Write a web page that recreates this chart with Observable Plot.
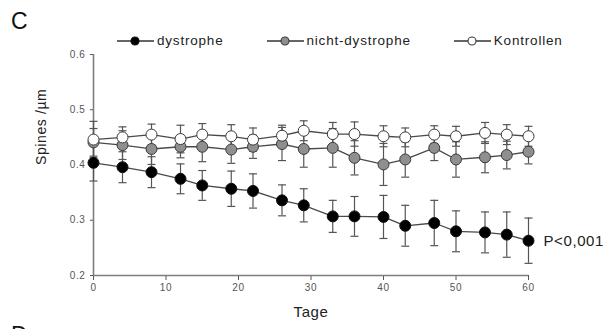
<!DOCTYPE html>
<html>
<head>
<meta charset="utf-8">
<script src="https://cdn.jsdelivr.net/npm/d3@7"></script>
<script src="https://cdn.jsdelivr.net/npm/@observablehq/plot@0.6"></script>
<style>
  html, body { margin: 0; padding: 0; background: #fff; }
  #wrap { position: relative; width: 605px; height: 329px; overflow: hidden; font-family: "Liberation Sans", Arial, sans-serif; }
  #wrap svg text { letter-spacing: 0.6px; }
  .panel { position: absolute; left: 11px; font-size: 23px; color: #111; line-height: 1; }
  #legend { position: absolute; top: 33px; left: 117px; display: flex; align-items: center; font-size: 13.5px; letter-spacing: 0.8px; color: #222; }
  #legend .item { display: flex; align-items: center; }
  #legend .item + .item { margin-left: 43px; }
  #legend svg { display: block; margin-right: 3px; }
</style>
</head>
<body>
<div id="wrap">
  <div class="panel" style="top:10px">C</div>
  <div class="panel" style="top:324px">D</div>
  <div id="legend"></div>
</div>
<script>
// ---- data ----
const days = [0, 4, 8, 12, 15, 19, 22, 26, 29, 33, 36, 40, 43, 47, 50, 54, 57, 60];
const dystrophe = [0.404, 0.396, 0.387, 0.375, 0.363, 0.357, 0.353, 0.336, 0.327, 0.307, 0.307, 0.306, 0.290, 0.295, 0.280, 0.278, 0.274, 0.263];
const dystropheErr = [0.033, 0.028, 0.028, 0.027, 0.027, 0.032, 0.031, 0.028, 0.030, 0.029, 0.036, 0.039, 0.037, 0.041, 0.037, 0.037, 0.041, 0.041];
const nichtDystrophe = [0.441, 0.436, 0.429, 0.433, 0.433, 0.428, 0.433, 0.438, 0.429, 0.431, 0.413, 0.401, 0.410, 0.431, 0.410, 0.414, 0.418, 0.424];
const nichtDystropheErr = [0.025, 0.026, 0.028, 0.020, 0.027, 0.025, 0.021, 0.030, 0.033, 0.035, 0.031, 0.038, 0.032, 0.023, 0.032, 0.028, 0.025, 0.022];
const kontrollen = [0.446, 0.450, 0.455, 0.447, 0.455, 0.452, 0.446, 0.453, 0.462, 0.456, 0.456, 0.452, 0.450, 0.455, 0.452, 0.458, 0.455, 0.452];
const kontrollenErr = [0.033, 0.019, 0.019, 0.025, 0.020, 0.021, 0.021, 0.019, 0.018, 0.021, 0.022, 0.019, 0.017, 0.016, 0.018, 0.019, 0.018, 0.018];
const seriesNames = ["dystrophe", "nicht-dystrophe", "Kontrollen"];
const xTicks = [0, 10, 20, 30, 40, 50, 60];
const yTicks = [0.2, 0.3, 0.4, 0.5, 0.6];
const xLabel = "Tage";
const yLabel = "Spines /µm";
const pLabel = "P<0,001";

// ---- styling ----
const fills = {"dystrophe": "#000000", "nicht-dystrophe": "#8f8f8f", "Kontrollen": "#ffffff"};
const strokes = {"dystrophe": "#111111", "nicht-dystrophe": "#3a3a3a", "Kontrollen": "#3a3a3a"};
const lineColor = "#4a4a4a";
const errColor = "#555555";
const axisColor = "#7d7d7d";

const build = (name, vals, errs) => days.map((d, i) => ({series: name, day: d, v: vals[i], e: errs[i]}));
const rows = {
  "dystrophe": build(seriesNames[0], dystrophe, dystropheErr),
  "nicht-dystrophe": build(seriesNames[1], nichtDystrophe, nichtDystropheErr),
  "Kontrollen": build(seriesNames[2], kontrollen, kontrollenErr)
};
const all = [...rows["nicht-dystrophe"], ...rows["Kontrollen"], ...rows["dystrophe"]];

// horizontal cap symbol for error bars
const cap = {draw(ctx, size) { const w = Math.sqrt(size / Math.PI); ctx.moveTo(-w, 0); ctx.lineTo(w, 0); }};

const drawOrder = ["nicht-dystrophe", "Kontrollen", "dystrophe"];
const last = rows["dystrophe"][rows["dystrophe"].length - 1];

const chart = Plot.plot({
  width: 605,
  height: 329,
  marginLeft: 93,
  marginRight: 77,
  marginTop: 54,
  marginBottom: 54,
  style: {fontFamily: "Liberation Sans, Arial, sans-serif", fontSize: "10px", color: "#555", background: "transparent", overflow: "visible"},
  x: {domain: [xTicks[0], xTicks[xTicks.length - 1]], ticks: xTicks, tickSize: 5, tickPadding: 3, label: null},
  y: {domain: [yTicks[0], yTicks[yTicks.length - 1]], ticks: yTicks, tickSize: 3, tickPadding: 5, tickFormat: d3.format(".1f"), label: null},
  marks: [
    Plot.ruleX([xTicks[0]], {stroke: axisColor, strokeWidth: 1.6}),
    Plot.ruleY([yTicks[0]], {stroke: axisColor, strokeWidth: 1.6}),
    Plot.ruleX(all, {x: "day", y1: d => d.v - d.e, y2: d => d.v + d.e, stroke: errColor, strokeWidth: 1.2}),
    Plot.dot(all, {x: "day", y: d => d.v + d.e, symbol: cap, r: 4, stroke: errColor, strokeWidth: 1.2, fill: "none"}),
    Plot.dot(all, {x: "day", y: d => d.v - d.e, symbol: cap, r: 4, stroke: errColor, strokeWidth: 1.2, fill: "none"}),
    ...drawOrder.map(s => Plot.line(rows[s], {x: "day", y: "v", stroke: lineColor, strokeWidth: 1.3})),
    ...drawOrder.map(s => Plot.dot(rows[s], {x: "day", y: "v", r: 5.5, fill: fills[s], stroke: strokes[s], strokeWidth: 1})),
    Plot.text([last], {x: "day", y: "v", text: () => pLabel, dx: 15, textAnchor: "start", lineAnchor: "middle", fontSize: 15, fill: "#222"}),
    Plot.text([xLabel], {text: d => d, frameAnchor: "bottom", dy: 37, lineAnchor: "middle", fontSize: 15, fill: "#222"}),
    Plot.text([yLabel], {text: d => d, frameAnchor: "left", dx: -52, rotate: -90, lineAnchor: "middle", fontSize: 14, fill: "#222"})
  ]
});
document.getElementById("wrap").appendChild(chart);

// legend
const legend = d3.select("#legend");
seriesNames.forEach(s => {
  const item = legend.append("div").attr("class", "item");
  const svg = item.append("svg").attr("width", 37).attr("height", 12);
  svg.append("line").attr("x1", 0).attr("x2", 37).attr("y1", 6).attr("y2", 6).attr("stroke", "#333").attr("stroke-width", 1.5);
  svg.append("circle").attr("cx", 18).attr("cy", 6).attr("r", 4).attr("fill", fills[s]).attr("stroke", strokes[s]).attr("stroke-width", 1.1);
  item.append("span").text(s);
});
</script>
</body>
</html>
